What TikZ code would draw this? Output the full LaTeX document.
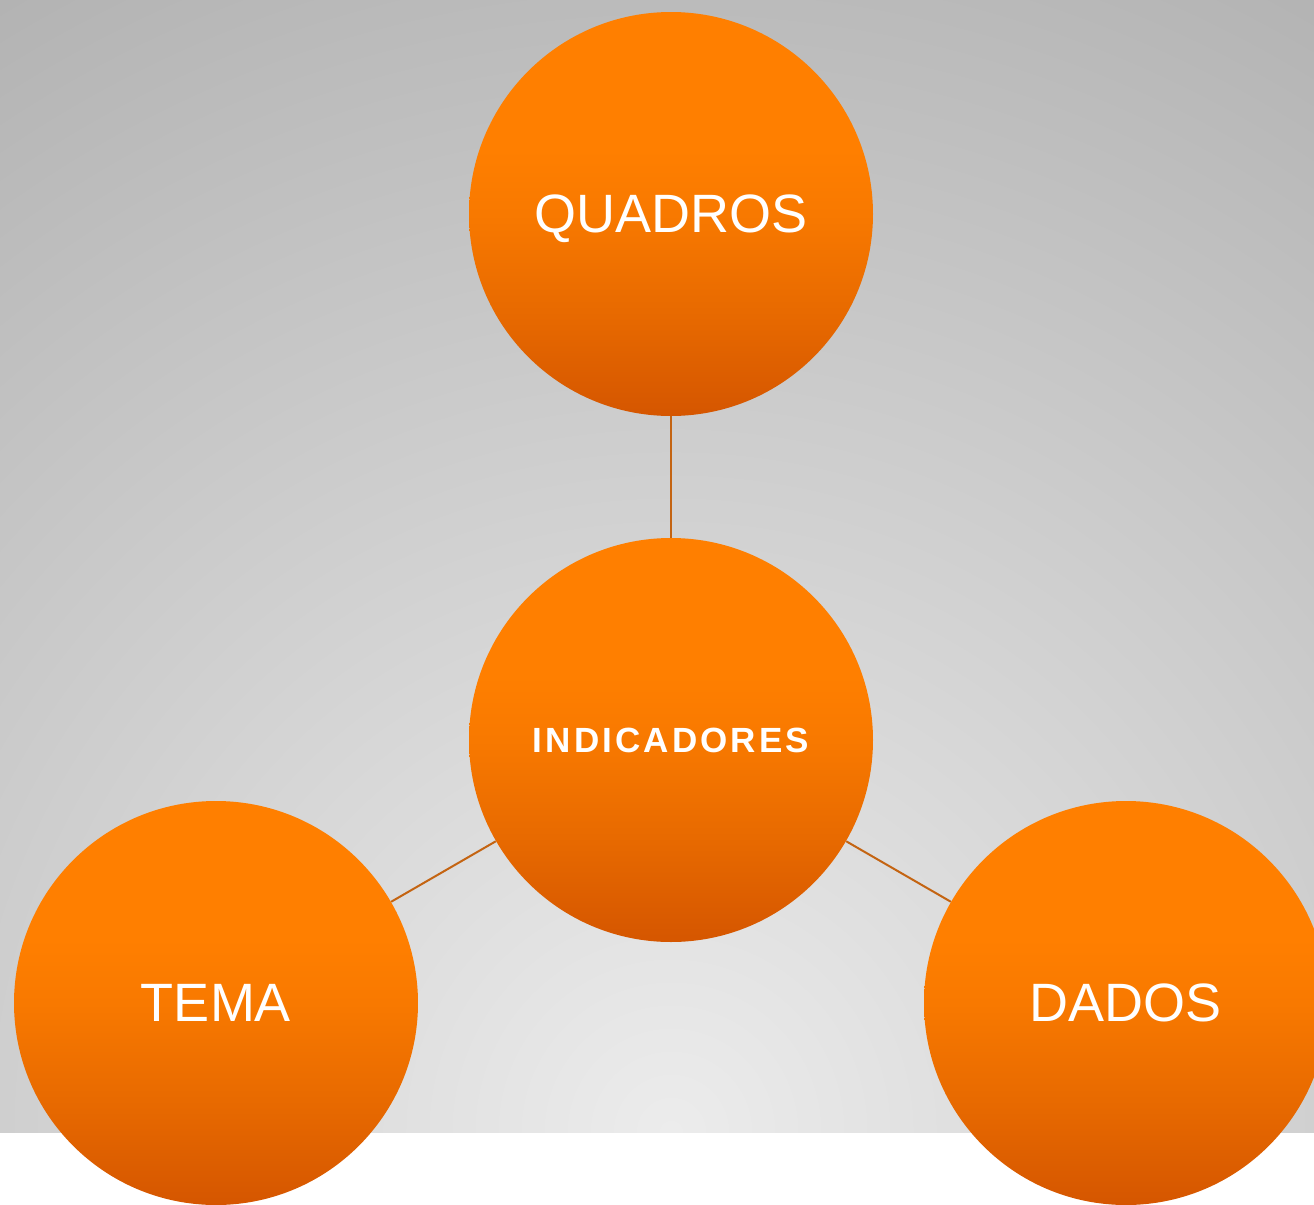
\documentclass[tikz,border=0pt]{standalone}
\usepackage{fontspec}
\setmainfont{Liberation Sans}
\newfontfamily\boldspaced[LetterSpace=9]{Liberation Sans Bold}
\definecolor{bgin}{RGB}{236,236,236}
\definecolor{bgout}{RGB}{177,177,177}
\definecolor{orA}{RGB}{255,127,0}
\definecolor{orB}{RGB}{248,121,0}
\definecolor{orC}{RGB}{232,106,0}
\definecolor{orD}{RGB}{213,86,0}
\definecolor{linkc}{RGB}{196,100,18}
\pgfdeclareradialshading{bgshade}{\pgfpoint{0bp}{0bp}}{color(0bp)=(bgin); color(25bp)=(bgout); color(50bp)=(bgout)}
\pgfdeclareverticalshading{orbshade}{100bp}{color(0bp)=(orD); color(25bp)=(orD); color(38bp)=(orC); color(50bp)=(orB); color(58bp)=(orA); color(75bp)=(orA); color(100bp)=(orA)}
\tikzset{
  orb/.style={circle, minimum size=202pt, inner sep=0pt, text depth=0pt, shade, shading=orbshade, text=white, font=\fontsize{27pt}{30pt}\selectfont},
  link/.style={draw=linkc, line width=1pt}
}
\begin{document}
\begin{tikzpicture}[x=0.5pt,y=-0.5pt]
\useasboundingbox (0,0) rectangle (1314,1205);
\clip (0,0) rectangle (1314,1205);
\fill[white] (0,0) rectangle (1314,1205);
\begin{scope}
  \clip (0,0) rectangle (1314,1132);
  \shade[shading=bgshade] (671,1132) circle (680pt);
\end{scope}
\node[orb] (Q) at (671,214) {QUADROS};
\node[orb, font=\boldspaced\fontsize{17.5pt}{20pt}\selectfont] (I) at (671,740) {INDICADORES};
\node[orb] (T) at (216,1003) {TEMA};
\node[orb] (D) at (1126,1003) {DADOS};
\draw[link] (Q) -- (I);
\draw[link] (I) -- (T);
\draw[link] (I) -- (D);
\end{tikzpicture}
\end{document}
